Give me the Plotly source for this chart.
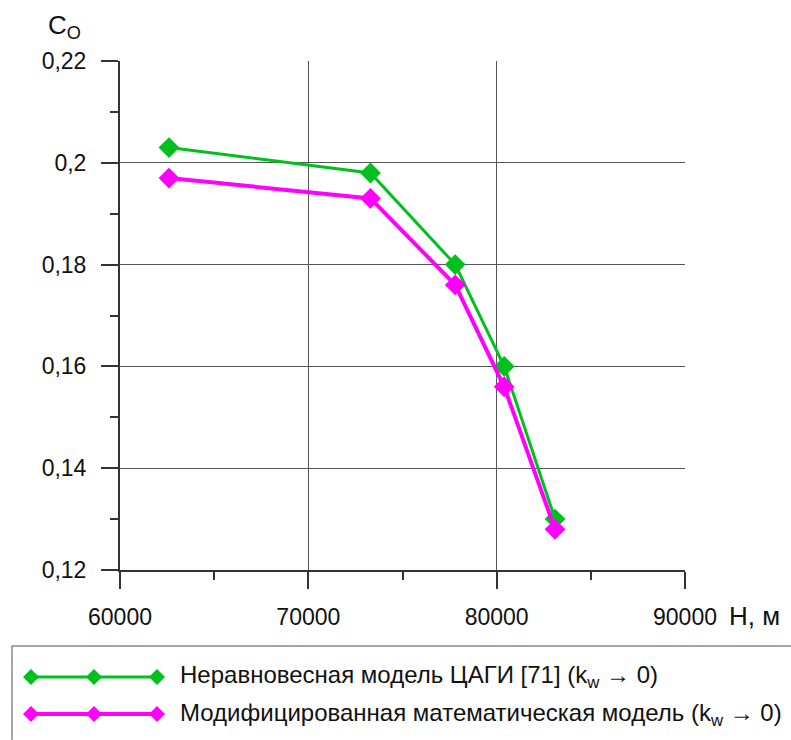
import plotly.graph_objects as go

# Altitude, m
altitude = [62600, 73300, 77800, 80400, 83100]
# Recovery coefficient C_O for the two models
co_tsagi = [0.203, 0.198, 0.180, 0.160, 0.130]
co_modified = [0.197, 0.193, 0.176, 0.156, 0.128]

names = [
    "Неравновесная модель ЦАГИ [71] (k<sub>w</sub> → 0)",
    "Модифицированная математическая модель (k<sub>w</sub> → 0)",
]
colors = ["#00C01E", "#FF00FF"]
widths = [3, 4]

W, H = 791, 740
ML, MR, MT, MB = 120, 106, 61, 170
PW, PH = W - ML - MR, H - MT - MB

FONT = "Liberation Sans, Arial, sans-serif"


def px_x(p):
    return (p - ML) / PW


def px_y(p):
    return (H - MB - p) / PH


fig = go.Figure()
for y, name, c, w in zip([co_tsagi, co_modified], names, colors, widths):
    fig.add_trace(go.Scatter(
        x=altitude, y=y, name=name, mode="lines+markers",
        line=dict(color=c, width=w),
        marker=dict(symbol="diamond", size=16, color=c),
        showlegend=False,
    ))

axis_common = dict(
    showline=True, linecolor="#333333", linewidth=2,
    showgrid=True, gridcolor="#555555", gridwidth=1,
    ticks="outside", ticklen=17, tickwidth=2, tickcolor="#333333",
    zeroline=False,
    tickfont=dict(family=FONT, size=23, color="#111111"),
)

fig.update_xaxes(
    range=[60000, 90000], dtick=10000, tick0=60000, tickformat="d",
    minor=dict(dtick=5000, ticks="outside", ticklen=8, tickwidth=2,
               tickcolor="#333333", showgrid=False),
    ticklabelstandoff=8,
    **axis_common,
)
fig.update_yaxes(
    range=[0.12, 0.22], dtick=0.02, tick0=0.12,
    minor=dict(dtick=0.01, ticks="outside", ticklen=8, tickwidth=2,
               tickcolor="#333333", showgrid=False),
    ticklabelstandoff=10,
    **axis_common,
)

shapes = []
annotations = []

# Legend frame (runs past the right and bottom edges)
shapes.append(dict(type="rect", xref="paper", yref="paper",
                   x0=px_x(12), x1=px_x(820), y0=px_y(646), y1=px_y(760),
                   line=dict(color="#888888", width=1.5), layer="above"))

rows = [677, 714]
sample_x = [31, 94, 157]
for row, name, c, w in zip(rows, names, colors, widths):
    shapes.append(dict(type="line", xref="paper", yref="paper",
                       x0=px_x(sample_x[0]), x1=px_x(sample_x[-1]),
                       y0=px_y(row), y1=px_y(row),
                       line=dict(color=c, width=w)))
    for sx in sample_x:
        d = 8
        path = (f"M {px_x(sx - d)},{px_y(row)} L {px_x(sx)},{px_y(row - d)} "
                f"L {px_x(sx + d)},{px_y(row)} L {px_x(sx)},{px_y(row + d)} Z")
        shapes.append(dict(type="path", xref="paper", yref="paper", path=path,
                           fillcolor=c, line=dict(color=c, width=0)))
    annotations.append(dict(xref="paper", yref="paper", x=px_x(178), y=px_y(row),
                            xanchor="left", yanchor="middle", showarrow=False,
                            text=name,
                            font=dict(family=FONT, size=24, color="#111111")))

# Axis titles
annotations.append(dict(xref="paper", yref="paper", x=px_x(46), y=px_y(27),
                        xanchor="left", yanchor="middle", showarrow=False,
                        text="C<sub>O</sub>",
                        font=dict(family=FONT, size=26, color="#111111")))
annotations.append(dict(xref="paper", yref="paper", x=px_x(727), y=px_y(616),
                        xanchor="left", yanchor="middle", showarrow=False,
                        text="Н, м",
                        font=dict(family=FONT, size=26, color="#111111")))

fig.update_layout(
    width=W, height=H,
    margin=dict(l=ML, r=MR, t=MT, b=MB),
    paper_bgcolor="white", plot_bgcolor="white",
    separators=", ",
    shapes=shapes, annotations=annotations,
    showlegend=False,
)

fig.write_html("out.html")
